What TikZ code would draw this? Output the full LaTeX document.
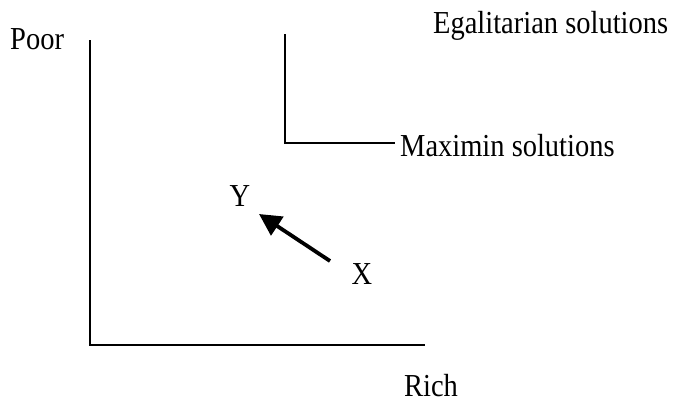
\documentclass[tikz,border=0pt]{standalone}
\usepackage{fontspec}
\setmainfont{Liberation Serif}[FakeStretch=0.89]
\usetikzlibrary{arrows.meta}
\tikzset{
  lbl/.style={inner sep=0pt, font=\fontsize{32}{34}\selectfont},
  axis/.style={line width=2.8pt},
  arr/.style={line width=3.8pt, -{Triangle[length=22pt,width=22pt]}}
}
\begin{document}
\begin{tikzpicture}[x=1pt,y=-1pt]
\useasboundingbox (0,0) rectangle (673,410);
% axes
\coordinate (top) at (90,40);
\coordinate (origin) at (90,345);
\coordinate (right) at (425,345);
\draw[axis] (top) -- (origin) -- (right);
% maximin corner
\coordinate (mtop) at (285,34);
\coordinate (mcorner) at (285,143);
\coordinate (mright) at (395,143);
\draw[axis] (mtop) -- (mcorner) -- (mright);
% labels
\node[lbl, anchor=west] (poor) at (10,39) {Poor};
\node[lbl, anchor=west] (egal) at (433,26) {Egalitarian solutions};
\node[lbl, anchor=west] (maxi) at (400,146) {Maximin solutions};
\node[lbl] (Y) at (240,196) {Y};
\node[lbl] (X) at (362,274) {X};
\node[lbl] (rich) at (431,386) {Rich};
% arrow
\coordinate (atail) at (330,261);
\coordinate (ahead) at (259,214);
\draw[arr] (atail) -- (ahead);
\end{tikzpicture}
\end{document}
